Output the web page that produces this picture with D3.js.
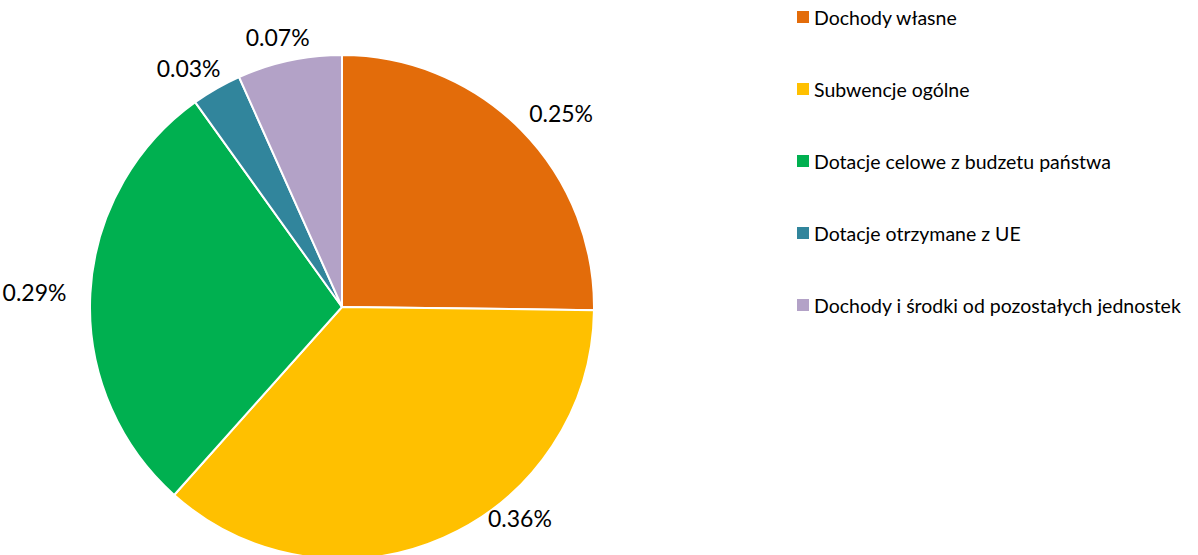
<!DOCTYPE html>
<html>
<head>
<meta charset="utf-8">
<script src="https://cdn.jsdelivr.net/npm/d3@7"></script>
<style>
  body { margin: 0; background: #fff; }
  text { font-family: Lato, "Noto Sans", sans-serif; fill: #000; }
</style>
</head>
<body>
<svg id="chart"></svg>
<script>
var categories = [
    "Dochody własne",
    "Subwencje ogólne",
    "Dotacje celowe z budzetu państwa",
    "Dotacje otrzymane z UE",
    "Dochody i środki od pozostałych jednostek"
];
var values = [0.252, 0.364, 0.285, 0.032, 0.067];
var valueLabels = ["0.25%", "0.36%", "0.29%", "0.03%", "0.07%"];
var colors = ["#E36C0A", "#FFC000", "#00B050", "#31859C", "#B3A2C7"];

var width = 1198,
    height = 555;
var cx = 342, cy = 307, radius = 252;

var svg = d3.select("#chart")
    .attr("width", width)
    .attr("height", height);

var pie = d3.pie().sort(null).value(function (d) { return d; });
var arc = d3.arc().innerRadius(0).outerRadius(radius);
var arcs = pie(values);

var g = svg.append("g")
    .attr("transform", "translate(" + cx + "," + cy + ")");

g.selectAll("path.slice")
    .data(arcs)
    .enter()
    .append("path")
    .attr("class", "slice")
    .attr("d", arc)
    .attr("fill", function (d, i) { return colors[i]; })
    .attr("stroke", "#fff")
    .attr("stroke-width", 2);

// outside-end labels
var gx = 24, gy = 10;
var labels = g.selectAll("text.lbl")
    .data(arcs)
    .enter()
    .append("text")
    .attr("class", "lbl")
    .style("font-size", "23px")
    .attr("text-anchor", "middle")
    .attr("dominant-baseline", "central")
    .text(function (d, i) { return valueLabels[i]; });

labels.each(function (d) {
    var bb = this.getBBox();
    var w = bb.width, h = bb.height;
    var a = (d.startAngle + d.endAngle) / 2;
    var s = Math.sin(a), c = Math.cos(a);
    var x = s * (radius + gx + w / 2);
    var y = -c * (radius + gy + h / 2);
    // keep the label inside the frame: slide it up along the rim
    var maxY = height - 37 - cy;
    if (y > maxY) {
        var a2 = Math.acos(-maxY / (radius + gy + h / 2));
        var s2 = Math.sin(a2) * (s >= 0 ? 1 : -1);
        x = s2 * (radius + gx);
        y = maxY;
    }
    d3.select(this).attr("x", x).attr("y", y);
});

// legend
var legend = svg.append("g")
    .attr("transform", "translate(797,17)");

var rows = legend.selectAll("g.row")
    .data(categories)
    .enter()
    .append("g")
    .attr("class", "row")
    .attr("transform", function (d, i) { return "translate(0," + (i * 72) + ")"; });

rows.append("rect")
    .attr("x", 0)
    .attr("y", -6)
    .attr("width", 12)
    .attr("height", 12)
    .attr("fill", function (d, i) { return colors[i]; });

rows.append("text")
    .attr("x", 17)
    .attr("y", 0)
    .attr("dominant-baseline", "central")
    .style("font-size", "19.5px")
    .text(function (d) { return d; });
</script>
</body>
</html>
